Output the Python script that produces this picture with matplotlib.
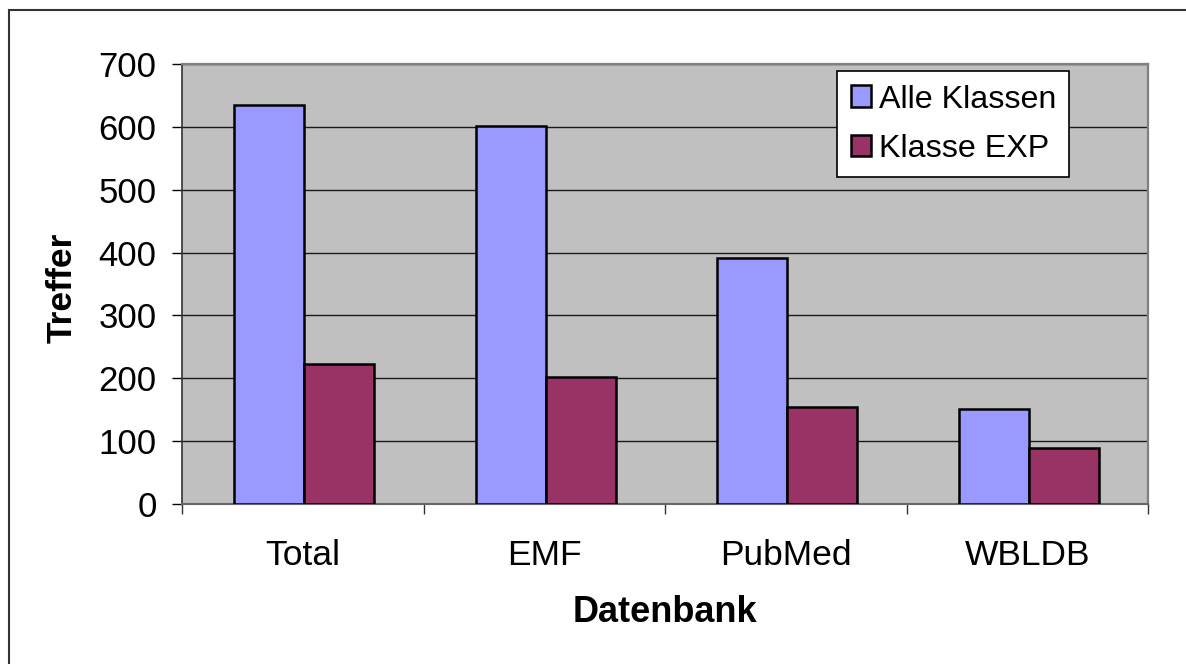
import matplotlib
matplotlib.use("Agg")
import matplotlib.pyplot as plt
from matplotlib.patches import Rectangle
import numpy as np

categories = ["Total", "EMF", "PubMed", "WBLDB"]
alle_klassen = [634, 602, 392, 151]
klasse_exp = [222, 202, 155, 89]
series_names = ["Alle Klassen", "Klasse EXP"]
yticks = [0, 100, 200, 300, 400, 500, 600, 700]

plt.rcParams['font.family'] = ['Liberation Sans', 'DejaVu Sans']

W, H = 1186, 664
fig = plt.figure(figsize=(W / 100, H / 100), dpi=100)
ax = fig.add_axes([182 / W, 1 - 504 / H, (1148 - 182) / W, (504 - 64) / H])
ax.set_facecolor('#C0C0C0')

x = np.arange(len(categories))
bw = 0.29
off = 0.006
ax.bar(x - bw / 2 + off, alle_klassen, bw, color='#9999FF', edgecolor='black',
       linewidth=1.8, label=series_names[0], zorder=3)
ax.bar(x + bw / 2 + off, klasse_exp, bw, color='#993366', edgecolor='black',
       linewidth=1.8, label=series_names[1], zorder=3)

ax.set_xlim(-0.5, len(categories) - 0.5)
ax.set_ylim(0, 700)
ax.set_yticks(yticks)
ax.set_yticklabels([str(v) for v in yticks], fontsize=25)
ax.yaxis.grid(True, color='#1a1a1a', linewidth=1.0, zorder=1)
ax.set_axisbelow(True)
ax.tick_params(axis='y', direction='out', length=7.2, width=1, color='black', pad=11)

ax.set_xticks(x)
ax.set_xticklabels(categories, fontsize=25.5)
ax.tick_params(axis='x', which='major', length=0, pad=25)
ax.set_xticks(np.arange(-0.5, len(categories), 1.0), minor=True)
ax.tick_params(axis='x', which='minor', direction='out', length=7.5, width=1, color='#333333')

for s in ['top', 'right']:
    ax.spines[s].set_color('#808080')
    ax.spines[s].set_linewidth(1.6)
ax.spines['left'].set_color('#333333')
ax.spines['bottom'].set_color('#666666')
ax.spines['left'].set_linewidth(1.2)
ax.spines['bottom'].set_linewidth(1.5)

fig.text(62 / W, 1 - 288 / H, "Treffer", rotation=90, ha='center', va='center',
         fontsize=25.5, fontweight='bold')
fig.text(665 / W, 1 - 612 / H, "Datenbank", ha='center', va='center',
         fontsize=26, fontweight='bold')

leg = ax.legend(loc='upper left', bbox_to_anchor=((837 - 182) / 966, 1 - (71 - 64) / 440),
                fontsize=23.2, frameon=True, fancybox=False, shadow=False,
                handlelength=0.65, handleheight=0.65, handletextpad=0.22,
                borderpad=0.42, labelspacing=0.6, borderaxespad=0)
leg.get_frame().set_edgecolor('black')
leg.get_frame().set_linewidth(1.2)
leg.get_frame().set_facecolor('white')
leg.get_frame().set_alpha(1)

top = 1 - 10 / H
fig.patches.append(Rectangle((9 / W, -0.2), 1.3, top + 0.2,
                             transform=fig.transFigure, fill=False,
                             edgecolor='#333333', linewidth=1.5))

fig.savefig("out.png", dpi=100)
